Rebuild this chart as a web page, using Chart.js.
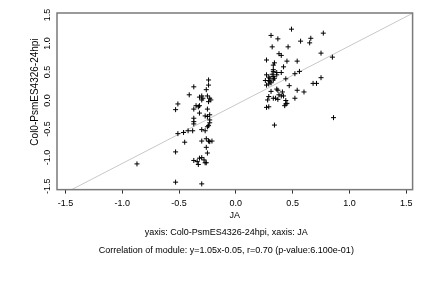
<!DOCTYPE html>
<html>
<head>
<meta charset="utf-8">
<script src="https://cdn.jsdelivr.net/npm/chart.js@4/dist/chart.umd.min.js"></script>
<style>
  html, body { margin: 0; padding: 0; background: #fff; }
  #wrap { width: 432px; height: 288px; }
</style>
</head>
<body>
<div id="wrap"><canvas id="corrChart" width="432" height="288"></canvas></div>
<script>
// JA (x) vs Col0-PsmES4326-24hpi (y)
const jaValues = [
    // left cluster
    -0.24, -0.24, -0.26, -0.37, -0.41, -0.30, -0.32, -0.29, -0.30, -0.25,
    -0.23, -0.22, -0.24, -0.51, -0.53, -0.35, -0.33, -0.32, -0.37, -0.25,
    -0.32, -0.27, -0.25, -0.23, -0.37, -0.37, -0.37, -0.23, -0.23, -0.24,
    -0.25, -0.30, -0.27, -0.51, -0.46, -0.42, -0.38, -0.45, -0.30, -0.26,
    -0.24, -0.23, -0.21, -0.26, -0.25, -0.53, -0.37, -0.34, -0.33, -0.32,
    -0.30, -0.28, -0.27, -0.26, -0.87, -0.53, -0.30,
    // right cluster
    0.49, 0.31, 0.37, 0.77, 0.66, 0.65, 0.57, 0.32, 0.46, 0.75,
    0.85, 0.38, 0.40, 0.27, 0.34, 0.33, 0.45, 0.54, 0.42, 0.33,
    0.27, 0.32, 0.36, 0.40, 0.56, 0.52, 0.30, 0.33, 0.34, 0.26,
    0.29, 0.30, 0.33, 0.27, 0.29, 0.44, 0.47, 0.68, 0.71, 0.75,
    0.31, 0.36, 0.37, 0.41, 0.54, 0.60, 0.29, 0.28, 0.33, 0.35,
    0.37, 0.38, 0.40, 0.42, 0.44, 0.44, 0.43, 0.45, 0.52, 0.29,
    0.27, 0.86, 0.34, 0.33, 0.29, 0.36, 0.31
];
const col0Values = [
    // left cluster
    0.36, 0.27, 0.19, 0.24, 0.10, 0.08, 0.06, 0.04, 0.01, 0.08,
    0.04, 0.01, -0.02, -0.06, -0.16, -0.09, -0.11, -0.09, -0.15, -0.15,
    -0.22, -0.27, -0.28, -0.25, -0.31, -0.37, -0.41, -0.34, -0.39, -0.44,
    -0.46, -0.51, -0.53, -0.58, -0.56, -0.53, -0.53, -0.73, -0.71, -0.67,
    -0.71, -0.72, -0.71, -0.82, -0.92, -0.90, -1.05, -1.07, -1.12, -1.01,
    -1.00, -1.04, -1.09, -1.09, -1.11, -1.43, -1.46,
    // right cluster
    1.25, 1.14, 1.08, 1.18, 1.09, 1.01, 1.04, 0.94, 0.94, 0.83,
    0.76, 0.82, 0.79, 0.71, 0.66, 0.62, 0.69, 0.69, 0.59, 0.54,
    0.45, 0.46, 0.49, 0.49, 0.51, 0.47, 0.39, 0.42, 0.39, 0.35,
    0.35, 0.33, 0.36, 0.27, 0.29, 0.38, 0.26, 0.30, 0.30, 0.40,
    0.16, 0.20, 0.18, 0.15, 0.18, 0.15, 0.07, 0.01, 0.04, 0.04,
    0.02, 0.10, 0.08, 0.08, 0.00, -0.06, -0.09, -0.05, 0.04, -0.11,
    -0.12, -0.30, -0.43, 0.51, 0.41, 0.45, 0.31
];

// fitted line, end points where it meets the frame
const fitX = [-1.445, 1.556];
const fitY = [-1.561, 1.528];

const xTicks = [-1.5, -1.0, -0.5, 0.0, 0.5, 1.0, 1.5];
const yTicks = [-1.5, -1.0, -0.5, 0.0, 0.5, 1.0, 1.5];

const xTitle = 'JA';
const yTitle = 'Col0-PsmES4326-24hpi';
const captionLines = [
    'yaxis: Col0-PsmES4326-24hpi, xaxis: JA',
    'Correlation of module: y=1.05x-0.05, r=0.70 (p-value:6.100e-01)'
];

const FONT = '"Liberation Sans", Arial, Helvetica, sans-serif';

const points = jaValues.map((x, i) => ({ x: x, y: col0Values[i] }));
const fitLine = fitX.map((x, i) => ({ x: x, y: fitY[i] }));

// box + rotated y labels, drawn from the y scale
const framePlugin = {
    id: 'frame',
    afterDraw(chart) {
        const ctx = chart.ctx;
        const a = chart.chartArea;
        const y = chart.scales.y;
        ctx.save();
        ctx.strokeStyle = '#7a7a7a';
        ctx.lineWidth = 1.5;
        ctx.strokeRect(a.left, a.top, a.right - a.left, a.bottom - a.top);

        ctx.fillStyle = '#000';
        ctx.textAlign = 'center';
        ctx.textBaseline = 'middle';
        ctx.font = '9px ' + FONT;
        y.ticks.forEach(t => {
            ctx.save();
            ctx.translate(48, y.getPixelForValue(t.value));
            ctx.rotate(-Math.PI / 2);
            ctx.fillText(t.value.toFixed(1), 0, 0);
            ctx.restore();
        });

        ctx.font = '10px ' + FONT;
        ctx.save();
        ctx.translate(35, 92);
        ctx.rotate(-Math.PI / 2);
        ctx.fillText(yTitle, 0, 0);
        ctx.restore();
        ctx.restore();
    }
};

const ctx = document.getElementById('corrChart').getContext('2d');
new Chart(ctx, {
    type: 'scatter',
    data: {
        datasets: [
            {
                data: points,
                pointStyle: 'cross',
                pointRadius: 2.5,
                pointBorderWidth: 1,
                borderColor: '#000',
                backgroundColor: '#000'
            },
            {
                type: 'line',
                data: fitLine,
                showLine: true,
                pointRadius: 0,
                borderColor: '#c8c8c8',
                borderWidth: 1,
                fill: false
            }
        ]
    },
    options: {
        responsive: false,
        animation: false,
        devicePixelRatio: 1,
        layout: { padding: { left: 40, right: 19.4, top: 13, bottom: 29 } },
        plugins: {
            legend: { display: false },
            tooltip: { enabled: false },
            title: {
                display: true,
                position: 'bottom',
                text: captionLines,
                color: '#000',
                font: { family: FONT, size: 9, weight: 'normal', lineHeight: 1.97 },
                padding: 0
            }
        },
        scales: {
            x: {
                type: 'linear',
                min: -1.574,
                max: 1.556,
                afterBuildTicks: s => { s.ticks = xTicks.map(v => ({ value: v })); },
                afterFit: s => { s.height = 33.9; },
                grid: { display: true, drawOnChartArea: false, drawTicks: true, tickLength: 4, tickColor: '#333', tickWidth: 1 },
                border: { display: false },
                ticks: {
                    color: '#000',
                    padding: 4,
                    maxRotation: 0,
                    font: { family: FONT, size: 9 },
                    callback: v => Number(v).toFixed(1)
                },
                title: {
                    display: true,
                    text: xTitle,
                    color: '#000',
                    font: { family: FONT, size: 9 },
                    padding: { top: 0, bottom: 3 }
                }
            },
            y: {
                type: 'linear',
                min: -1.561,
                max: 1.533,
                afterBuildTicks: s => { s.ticks = yTicks.map(v => ({ value: v })); },
                afterFit: s => { s.width = 17; },
                grid: { display: false },
                border: { display: false },
                ticks: { display: false }
            }
        }
    },
    plugins: [framePlugin]
});
</script>
</body>
</html>
